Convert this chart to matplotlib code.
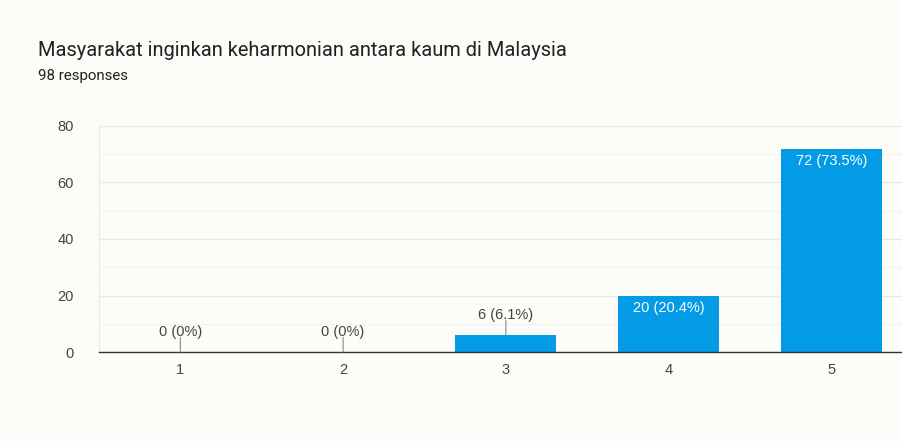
import matplotlib.pyplot as plt

# data
categories = ["1", "2", "3", "4", "5"]
counts = [0, 0, 6, 20, 72]
percents = ["0%", "0%", "6.1%", "20.4%", "73.5%"]
title = "Masyarakat inginkan keharmonian antara kaum di Malaysia"
subtitle = "98 responses"

bg = "#fdfcf8"
blue = "#039be5"
text_col = "#444444"

fig = plt.figure(figsize=(9.03, 4.41), dpi=100, facecolor=bg)
ax = fig.add_axes([0.1096, 0.2018, 0.8904, 0.5125], facecolor=bg)

x = list(range(1, len(categories) + 1))
ax.bar(x, counts, width=0.62, color=blue, zorder=3)

ax.set_xlim(0.5, 5.44)
ax.set_ylim(0, 80)
ax.set_yticks([0, 20, 40, 60, 80])
ax.set_yticks([10, 30, 50, 70], minor=True)
ax.set_xticks(x)
ax.set_xticklabels(categories)

ax.grid(axis="y", which="major", color="#ebe8e2", linewidth=0.9, zorder=0)
ax.grid(axis="y", which="minor", color="#f4f2ed", linewidth=0.9, zorder=0)

for s in ["top", "right"]:
    ax.spines[s].set_visible(False)
ax.spines["left"].set_color("#ebe8e2")
ax.spines["bottom"].set_color("#333333")
ax.spines["bottom"].set_linewidth(1.0)
ax.spines["bottom"].set_zorder(4)

ax.tick_params(axis="both", which="both", length=0, labelsize=10.5,
               labelcolor=text_col, labelfontfamily="Liberation Sans")
ax.tick_params(axis="x", pad=8)
ax.tick_params(axis="y", pad=18)

for xi, c, p in zip(x, counts, percents):
    label = f"{c} ({p})"
    if c >= 15:
        ax.annotate(label, (xi, c), xytext=(0, -4), textcoords="offset points",
                    ha="center", va="top", color="white", fontsize=10.5,
                    family="Liberation Sans", zorder=5)
    else:
        ax.annotate("", (xi, c), xytext=(0, 10.5), textcoords="offset points",
                    arrowprops=dict(arrowstyle="-", color="#888888", lw=0.8,
                                    shrinkA=0, shrinkB=0), zorder=5)
        ax.annotate(label, (xi, c), xytext=(0, 9.5), textcoords="offset points",
                    ha="center", va="bottom", color=text_col, fontsize=10.5,
                    family="Liberation Sans", zorder=5)

fig.text(38 / 903, 1 - 50 / 441, title, fontsize=14.4, color="#202124",
         family="Roboto", va="center", ha="left")
fig.text(38 / 903, 1 - 76 / 441, subtitle, fontsize=10.8, color="#202124",
         family="Roboto", va="center", ha="left")

fig.savefig("out.png", dpi=100, facecolor=bg)
